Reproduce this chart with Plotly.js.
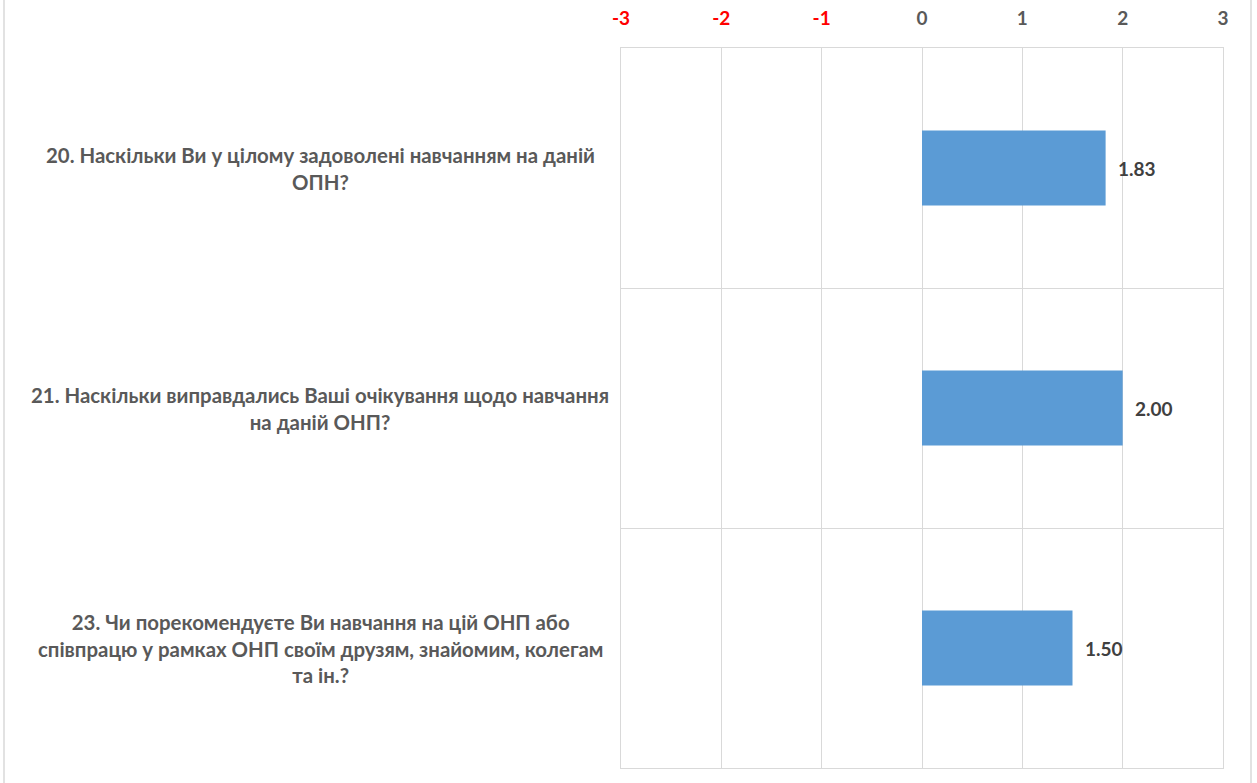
<!DOCTYPE html>
<html>
<head>
<meta charset="utf-8">
<script src="https://cdn.plot.ly/plotly-3.0.1.min.js"></script>
<style>
html,body{margin:0;padding:0;background:#fff;}
#chart{width:1257px;height:783px;}
</style>
</head>
<body>
<div id="chart"></div>
<script>
const questions = [
  "20. Наскільки Ви у цілому задоволені навчанням на даній<br>ОПН?",
  "21. Наскільки виправдались Ваші очікування щодо навчання<br>на даній ОНП?",
  "23. Чи порекомендуєте Ви навчання на цій ОНП або<br>співпрацю у рамках ОНП своїм друзям, знайомим, колегам<br>та ін.?"
];
const scores = [1.83, 2.00, 1.50];
const xTickVals = [-3, -2, -1, 0, 1, 2, 3];
const xTickText = ["-3", "-2", "-1", "0", "1", "2", "3"];

const positions = questions.map((q, i) => i);
const FONT = "Lato, 'Open Sans', sans-serif";

const trace = {
  type: "bar",
  orientation: "h",
  x: scores,
  y: positions,
  width: 0.3125,
  marker: {color: "#5b9bd5"},
  hoverinfo: "skip"
};

const annotations = [];
questions.forEach((q, i) => {
  annotations.push({
    xref: "paper", yref: "y",
    x: -0.5, y: i,
    text: q, showarrow: false,
    xanchor: "center", yanchor: "middle", align: "center",
    font: {family: FONT, size: 20.4, color: "#595959", weight: "bold"}
  });
  annotations.push({
    xref: "x", yref: "y",
    x: scores[i], y: i,
    text: scores[i].toFixed(2), showarrow: false,
    xanchor: "left", yanchor: "middle", xshift: 10,
    font: {family: FONT, size: 19, color: "#404040", weight: "bold"}
  });
});

const tickText = xTickVals.map((v, i) =>
  v < 0 ? '<span style="color:#ff0000">' + xTickText[i] + '</span>' : xTickText[i]);

const layout = {
  width: 1257, height: 783,
  margin: {l: 621, r: 34, t: 48, b: 15},
  paper_bgcolor: "#ffffff", plot_bgcolor: "#ffffff",
  showlegend: false,
  xaxis: {
    side: "top", range: [-3, 3],
    tickvals: xTickVals, ticktext: tickText,
    showgrid: true, gridcolor: "#d9d9d9", gridwidth: 1,
    zeroline: false, showline: true, mirror: true, linecolor: "#d9d9d9",
    ticks: "", ticklabelstandoff: 14,
    tickfont: {family: FONT, size: 19, color: "#595959", weight: "bold"},
    fixedrange: true
  },
  yaxis: {
    range: [2.5, -0.5],
    tickvals: [-0.5, 0.5, 1.5, 2.5],
    showticklabels: false,
    showgrid: true, gridcolor: "#d9d9d9", gridwidth: 1,
    zeroline: false, showline: true, mirror: true, linecolor: "#d9d9d9",
    ticks: "", fixedrange: true
  },
  annotations: annotations,
  shapes: [
    {type: "line", xref: "paper", yref: "paper", x0: (4 - 621) / 602, x1: (4 - 621) / 602, y0: -0.03, y1: 1.07, line: {color: "#d9d9d9", width: 1.5}},
    {type: "line", xref: "paper", yref: "paper", x0: (1251 - 621) / 602, x1: (1251 - 621) / 602, y0: -0.03, y1: 1.07, line: {color: "#d9d9d9", width: 1.5}}
  ]
};

Plotly.newPlot("chart", [trace], layout, {displayModeBar: false, staticPlot: true});
</script>
</body>
</html>
